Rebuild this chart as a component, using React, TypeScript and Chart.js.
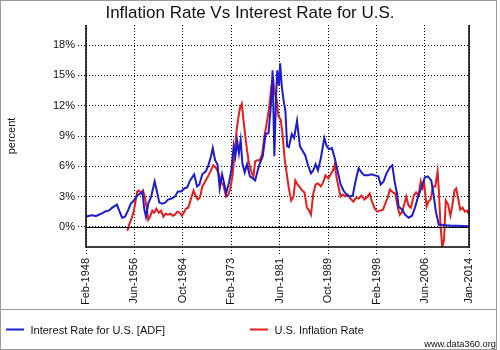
import React, { useEffect, useRef } from "react";
import { Chart, registerables } from "chart.js";

Chart.register(...registerables);

// Interest Rate for U.S. [ADF] (percent), by decimal year
const rateYears = [
  1948.1, 1948.6, 1949.2, 1949.8, 1950.3, 1950.9, 1951.5, 1952.0, 1952.5, 1953.0,
  1953.4, 1953.8, 1954.3, 1954.8, 1955.3, 1955.8, 1956.3, 1956.9, 1957.4, 1957.8,
  1958.1, 1958.4, 1958.8, 1959.3, 1959.9, 1960.3, 1960.7, 1961.2, 1961.7, 1962.2,
  1962.8, 1963.4, 1963.9, 1964.5, 1965.0, 1965.5, 1966.0, 1966.7, 1967.2, 1967.6,
  1968.1, 1968.7, 1969.1, 1969.6, 1969.9, 1970.3, 1970.7, 1971.1, 1971.5, 1971.9,
  1972.2, 1972.7, 1973.1, 1973.5, 1973.8, 1974.1, 1974.4, 1974.7, 1975.0, 1975.4,
  1975.8, 1976.3, 1976.8, 1977.2, 1977.6, 1978.0, 1978.5, 1979.0, 1979.5, 1979.9,
  1980.2, 1980.5, 1980.8, 1981.0, 1981.3, 1981.5, 1981.8, 1982.1, 1982.4, 1982.7,
  1983.0, 1983.5, 1983.9, 1984.4, 1984.9, 1985.3, 1985.8, 1986.3, 1986.8, 1987.2,
  1987.6, 1988.0, 1988.5, 1989.1, 1989.5, 1989.9, 1990.4, 1990.9, 1991.4, 1991.9,
  1992.4, 1992.9, 1993.5, 1994.0, 1994.5, 1995.0, 1995.5, 1996.0, 1996.6, 1997.2,
  1997.8, 1998.4, 1998.8, 1999.3, 1999.8, 2000.4, 2000.8, 2001.2, 2001.6, 2001.9,
  2002.5, 2003.0, 2003.6, 2004.2, 2004.7, 2005.2, 2005.8, 2006.4, 2006.9, 2007.5,
  2007.9, 2008.3, 2008.8, 2009.3, 2010.0, 2011.0, 2012.0, 2013.0, 2014.0,
];
const rateValues = [
  1.0, 1.1, 1.15, 1.05, 1.2, 1.35, 1.55, 1.6, 1.85, 2.05,
  2.2, 1.6, 0.9, 1.0, 1.6, 2.3, 2.6, 3.1, 3.3, 3.5,
  1.8, 1.0, 2.3, 3.0, 4.5, 3.5, 2.4, 2.3, 2.4, 2.7,
  2.8, 3.0, 3.5, 3.5, 3.8, 3.9, 4.6, 5.2, 4.0, 4.2,
  5.2, 5.5, 6.0, 7.0, 7.8, 6.6, 6.2, 3.8, 5.2, 4.2,
  3.3, 4.4, 5.6, 8.0, 7.0, 8.5, 7.3, 8.6, 6.3, 5.4,
  6.2, 5.0, 4.8, 4.6, 5.5, 6.3, 7.0, 9.2, 9.3, 12.0,
  15.5, 7.0, 13.0, 15.5, 14.0, 16.2, 13.8, 12.5, 11.5, 8.0,
  7.9, 9.2, 8.8, 10.5, 8.0, 7.6, 7.1, 6.1, 5.3, 5.6,
  6.2, 5.6, 6.8, 8.8, 8.0, 7.7, 7.8, 6.8, 5.5, 4.2,
  3.6, 3.2, 3.0, 3.1, 4.6, 5.8, 5.4, 5.1, 5.1, 5.2,
  5.1, 5.0, 4.2, 4.5, 5.3, 5.9, 6.1, 4.5, 3.3, 2.0,
  1.7, 1.2, 0.9, 1.1, 1.9, 2.9, 3.9, 4.9, 5.0, 4.6,
  3.2, 1.5, 0.2, 0.2, 0.15, 0.1, 0.1, 0.07, 0.05,
];

// U.S. Inflation Rate (percent), by decimal year
const inflYears = [
  1955.2, 1955.5, 1955.9, 1956.3, 1956.6, 1956.9, 1957.2, 1957.6, 1957.9, 1958.2,
  1958.5, 1958.8, 1959.1, 1959.5, 1959.8, 1960.2, 1960.6, 1961.0, 1961.4, 1961.8,
  1962.2, 1962.6, 1963.0, 1963.4, 1963.8, 1964.2, 1964.6, 1964.9, 1965.3, 1965.7,
  1966.1, 1966.6, 1967.0, 1967.3, 1967.7, 1968.1, 1968.6, 1969.0, 1969.5, 1970.0,
  1970.5, 1970.9, 1971.3, 1971.7, 1972.2, 1972.6, 1972.9, 1973.3, 1973.7, 1974.0,
  1974.3, 1974.6, 1974.9, 1975.2, 1975.5, 1975.8, 1976.1, 1976.5, 1976.9, 1977.2,
  1977.6, 1978.0, 1978.4, 1978.8, 1979.2, 1979.6, 1980.0, 1980.3, 1980.6, 1980.9,
  1981.2, 1981.6, 1981.9, 1982.3, 1982.7, 1983.0, 1983.4, 1983.8, 1984.1, 1984.5,
  1984.9, 1985.3, 1985.7, 1986.1, 1986.5, 1986.8, 1987.2, 1987.6, 1988.0, 1988.5,
  1988.9, 1989.3, 1989.8, 1990.2, 1990.6, 1990.9, 1991.2, 1991.6, 1991.9, 1992.3,
  1992.7, 1993.1, 1993.6, 1994.1, 1994.6, 1995.0, 1995.5, 1996.0, 1996.4, 1996.9,
  1997.3, 1997.8, 1998.2, 1998.7, 1999.2, 1999.6, 2000.0, 2000.4, 2000.9, 2001.3,
  2001.8, 2002.1, 2002.5, 2002.9, 2003.2, 2003.6, 2004.0, 2004.5, 2004.9, 2005.3,
  2005.7, 2006.0, 2006.3, 2006.7, 2007.0, 2007.4, 2007.8, 2008.2, 2008.6, 2008.8,
  2009.1, 2009.4, 2009.7, 2010.0, 2010.4, 2010.8, 2011.1, 2011.5, 2011.8, 2012.1,
  2012.5, 2012.9, 2013.3, 2013.7, 2014.0,
];
const inflValues = [
  -0.4, 0.2, 0.8, 1.5, 2.5, 3.5, 3.6, 3.3, 3.6, 3.0,
  2.0, 0.7, 1.0, 1.6, 1.4, 1.8, 1.4, 1.6, 1.0, 1.3,
  1.2, 1.3, 1.1, 1.2, 1.5, 1.4, 1.1, 1.4, 1.8, 1.9,
  2.7, 3.6, 3.0, 2.7, 2.9, 4.0, 4.5, 4.9, 5.5, 6.1,
  5.8, 5.3, 4.4, 4.2, 3.0, 3.2, 3.7, 5.1, 7.5, 9.5,
  10.8, 11.8, 12.2, 10.5, 9.0, 7.6, 6.4, 5.5, 5.0, 6.5,
  6.6, 6.6, 7.2, 9.0, 10.3, 11.8, 14.0, 14.6, 13.2, 12.6,
  11.0, 10.6, 9.2, 6.6, 5.0, 3.8, 2.6, 3.0, 4.6, 4.2,
  3.9, 3.6, 3.4, 1.9, 1.6, 1.2, 3.3, 4.2, 4.3, 4.0,
  4.4, 5.1, 4.8, 5.2, 5.6, 6.2, 4.9, 3.8, 3.0, 3.2,
  3.0, 3.2, 2.8, 2.5, 2.9, 2.8, 3.1, 2.7, 2.9, 3.3,
  2.5, 1.8, 1.5, 1.6, 1.7, 2.3, 2.9, 3.7, 3.4, 3.3,
  1.8, 1.2, 1.5, 2.3, 3.0, 2.1, 1.9, 3.1, 3.4, 3.1,
  4.5, 3.8, 4.2, 2.0, 2.5, 2.7, 4.0, 4.0, 5.5, 3.7,
  0.1, -2.0, -1.3, 2.6, 2.2, 1.1, 2.0, 3.6, 3.8, 2.9,
  1.7, 1.9, 1.5, 1.6, 1.2,
];

const xTickValues = [
  1948 + 1 / 12, 1956 + 5 / 12, 1964 + 9 / 12, 1973 + 1 / 12, 1981 + 5 / 12,
  1989 + 9 / 12, 1998 + 1 / 12, 2006 + 5 / 12, 2014,
];
const xTickLabels = [
  "Feb-1948", "Jun-1956", "Oct-1964", "Feb-1973", "Jun-1981",
  "Oct-1989", "Feb-1998", "Jun-2006", "Jan-2014",
];
const yTickValues = [0, 3, 6, 9, 12, 15, 18];

const TITLE = "Inflation Rate Vs Interest Rate for U.S.";
const Y_TITLE = "percent";
const SERIES_NAMES = ["Interest Rate for U.S. [ADF]", "U.S. Inflation Rate"];
const SERIES_COLORS = ["#1c1ccc", "#e41e1e"];
const CREDIT = "www.data360.org";
const FONT = "'Liberation Sans', Arial, sans-serif";

const decor = {
  id: "decor",
  afterDatasetsDraw(chart: any) {
    const { ctx, chartArea: a, scales } = chart;
    ctx.save();
    ctx.strokeStyle = "#000";
    ctx.lineWidth = 1.5;
    ctx.beginPath();
    ctx.moveTo(a.left, a.top);
    ctx.lineTo(a.left, a.bottom);
    ctx.lineTo(a.right, a.bottom);
    ctx.lineTo(a.right, a.top);
    ctx.stroke();
    const y0 = Math.round(scales.y.getPixelForValue(0)) + 0.5;
    ctx.lineWidth = 1;
    ctx.beginPath();
    ctx.moveTo(a.left, y0);
    ctx.lineTo(a.right, y0);
    ctx.stroke();
    ctx.restore();
  },
  afterDraw(chart: any) {
    const { ctx, chartArea: a } = chart;
    ctx.save();
    // outer frame and legend separator
    ctx.strokeStyle = "#9a9a9a";
    ctx.lineWidth = 1;
    ctx.strokeRect(0.5, 0.5, 496, 349);
    ctx.beginPath();
    ctx.moveTo(0, 309.5);
    ctx.lineTo(497, 309.5);
    ctx.stroke();

    // title
    ctx.fillStyle = "#111";
    ctx.font = `17px ${FONT}`;
    ctx.textAlign = "center";
    ctx.textBaseline = "alphabetic";
    ctx.fillText(TITLE, 250, 18);

    // y axis title
    ctx.save();
    ctx.translate(12, (a.top + a.bottom) / 2);
    ctx.rotate(-Math.PI / 2);
    ctx.font = `11px ${FONT}`;
    ctx.textAlign = "center";
    ctx.textBaseline = "middle";
    ctx.fillText(Y_TITLE, 0, 0);
    ctx.restore();

    // legend
    const legendX = [6, 250];
    ctx.font = `11px ${FONT}`;
    ctx.textAlign = "left";
    ctx.textBaseline = "alphabetic";
    SERIES_NAMES.forEach((name, i) => {
      ctx.strokeStyle = SERIES_COLORS[i];
      ctx.lineWidth = 2;
      ctx.beginPath();
      ctx.moveTo(legendX[i], 329.5);
      ctx.lineTo(legendX[i] + 18, 329.5);
      ctx.stroke();
      ctx.fillStyle = "#111";
      ctx.fillText(name, legendX[i] + 24.5, 334);
    });

    // credit
    ctx.font = `9.3px ${FONT}`;
    ctx.textAlign = "right";
    ctx.fillText(CREDIT, 496, 346.5);
    ctx.restore();
  },
};

export default function App() {
  const ref = useRef<HTMLCanvasElement | null>(null);

  useEffect(() => {
    if (!ref.current) return;
    const chart = new Chart(ref.current, {
      type: "line",
      data: {
        datasets: [
          {
            label: SERIES_NAMES[0],
            data: rateYears.map((x, i) => ({ x, y: rateValues[i] })),
            borderColor: SERIES_COLORS[0],
            borderWidth: 2,
            pointRadius: 0,
            fill: false,
            tension: 0,
          },
          {
            label: SERIES_NAMES[1],
            data: inflYears.map((x, i) => ({ x, y: inflValues[i] })),
            borderColor: SERIES_COLORS[1],
            borderWidth: 2,
            pointRadius: 0,
            fill: false,
            tension: 0,
          },
        ],
      },
      options: {
        responsive: false,
        animation: false,
        events: [],
        layout: { padding: { left: 0, top: 25, right: 31, bottom: 0 } },
        plugins: {
          legend: { display: false },
          title: { display: false },
          tooltip: { enabled: false },
        },
        scales: {
          x: {
            type: "linear",
            min: xTickValues[0],
            max: xTickValues[xTickValues.length - 1],
            afterBuildTicks: (s: any) => {
              s.ticks = xTickValues.map((v) => ({ value: v }));
            },
            afterFit: (s: any) => {
              s.height = 103;
            },
            border: { display: false, dash: [1, 2] },
            grid: {
              color: "#000",
              lineWidth: 1,
              tickLength: 8,
              tickColor: "#000",
              tickBorderDash: [1, 2],
            },
            ticks: {
              autoSkip: false,
              maxRotation: 90,
              minRotation: 90,
              padding: 3,
              color: "#111",
              font: { family: FONT, size: 11 },
              callback: (_v: any, i: number) => xTickLabels[i],
            },
          },
          y: {
            type: "linear",
            min: -2,
            max: 20,
            afterBuildTicks: (s: any) => {
              s.ticks = yTickValues.map((v) => ({ value: v }));
            },
            afterFit: (s: any) => {
              s.width = 86;
            },
            border: { display: false, dash: [1, 2] },
            grid: {
              color: "#000",
              lineWidth: 1,
              tickLength: 8,
              tickColor: "#000",
              tickBorderDash: [1, 2],
            },
            ticks: {
              padding: 3,
              color: "#111",
              font: { family: FONT, size: 11 },
              callback: (v: any) => `${v}%`,
            },
          },
        },
      },
      plugins: [decor],
    });
    return () => chart.destroy();
  }, []);

  return (
    <div style={{ position: "fixed", left: 0, top: 0, width: 500, height: 350, background: "#fff" }}>
      <canvas ref={ref} width={500} height={350} />
    </div>
  );
}
